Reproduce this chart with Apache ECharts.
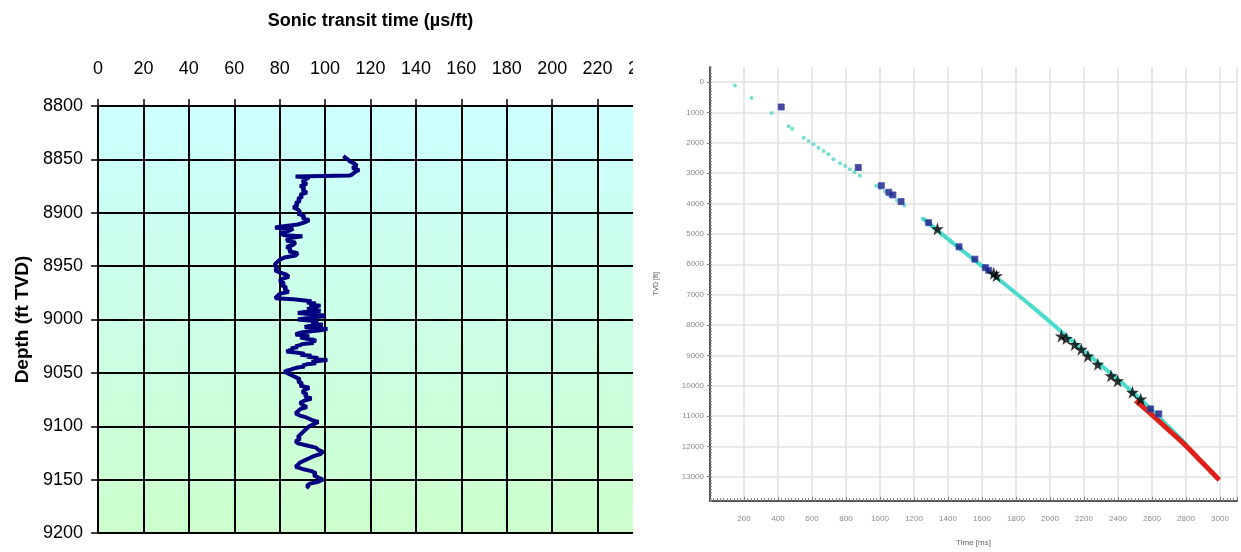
<!DOCTYPE html>
<html>
<head>
<meta charset="utf-8">
<script src="https://cdn.jsdelivr.net/npm/echarts@6/dist/echarts.min.js"></script>
<style>
  html, body { margin: 0; padding: 0; background: #fff; }
  #wrapL { position: absolute; left: 0; top: 0; width: 633px; height: 552px; overflow: hidden; }
  #disp1 { position: absolute; left: 0; top: 0; width: 680px; height: 552px; }
  #disp2 { position: absolute; left: 645px; top: 0; width: 596px; height: 552px; }
</style>
</head>
<body>
<div id="wrapL"><div id="disp1"></div></div>
<div id="disp2"></div>
<script>
// ---- left chart : sonic log ----
var sonicTicks = [0, 20, 40, 60, 80, 100, 120, 140, 160, 180, 200, 220, 240];
var depthTicks = [8800, 8850, 8900, 8950, 9000, 9050, 9100, 9150, 9200];
var sonicDepth = [
  8847, 8850, 8852, 8854, 8856, 8858, 8860, 8862, 8864, 8865,
  8866, 8867, 8869, 8871, 8873, 8875, 8877, 8879, 8881, 8883,
  8885, 8887, 8889, 8891, 8893, 8895, 8897, 8899, 8901, 8903,
  8905, 8907, 8909, 8911, 8913, 8914, 8915, 8917, 8919, 8921,
  8922, 8924, 8926, 8928, 8930, 8932, 8934, 8936, 8938, 8940,
  8942, 8944, 8946, 8948, 8950, 8952, 8954, 8956, 8958, 8960,
  8962, 8964, 8966, 8968, 8970, 8972, 8974, 8976, 8978, 8980,
  8981, 8982, 8983, 8984, 8985, 8986, 8987, 8988, 8989, 8990,
  8991, 8992, 8993, 8994, 8995, 8996, 8997, 8998, 8999, 9000,
  9001, 9002, 9003, 9004, 9005, 9006, 9007, 9008, 9009, 9010,
  9011, 9012, 9013, 9014, 9015, 9016, 9017, 9018, 9019, 9020,
  9021, 9022, 9023, 9024, 9025, 9026, 9027, 9028, 9029, 9030,
  9031, 9032, 9033, 9034, 9035, 9036, 9037, 9038, 9039, 9040,
  9041, 9042, 9043, 9044, 9045, 9046, 9047, 9048, 9049, 9050,
  9052, 9054, 9056, 9058, 9060, 9062, 9064, 9066, 9068, 9070,
  9072, 9074, 9076, 9078, 9080, 9082, 9084, 9086, 9088, 9090,
  9092, 9094, 9096, 9098, 9100, 9102, 9104, 9106, 9108, 9110,
  9112, 9114, 9116, 9118, 9120, 9122, 9124, 9126, 9128, 9130,
  9132, 9134, 9136, 9138, 9140, 9142, 9144, 9146, 9148, 9150,
  9152, 9154, 9156, 9158];
var sonicValue = [
  108, 110, 111, 113, 114, 112, 115, 113, 112, 111,
  87, 93, 91, 90, 92, 89, 91, 90, 92, 89,
  90, 88, 89, 87, 88, 86, 88, 89, 88, 91,
  90, 93, 91, 88, 80, 78, 86, 84, 80, 82,
  90, 84, 83, 87, 86, 83, 85, 84, 88, 87,
  82, 80, 79, 78, 78, 79, 78, 80, 83, 84,
  81, 80, 82, 81, 83, 82, 84, 80, 79, 78,
  86, 90, 94, 92, 96, 93, 98, 95, 97, 92,
  96, 98, 91, 88, 94, 99, 100, 95, 91, 88,
  93, 97, 94, 96, 99, 93, 91, 97, 101, 98,
  94, 90, 88, 87, 91, 93, 89, 92, 95, 96,
  93, 95, 90, 89, 87, 88, 85, 86, 84, 83,
  87, 91, 89, 94, 92, 97, 95, 101, 97, 94,
  96, 92, 90, 91, 88, 86, 85, 83, 82, 82,
  85, 87, 89, 88, 90, 89, 93, 91, 90, 92,
  91, 94, 91, 89, 90, 92, 89, 88, 87, 89,
  92, 94, 97, 95, 93, 92, 91, 90, 89, 88,
  89, 87, 88, 92, 96, 97, 99, 98, 95, 93,
  91, 89, 88, 87, 90, 94, 96, 95, 97, 99,
  97, 93, 92, 93];

// ---- right chart : time-depth ----
var timeTicks = [200, 400, 600, 800, 1000, 1200, 1400, 1600, 1800, 2000, 2200, 2400, 2600, 2800, 3000];
var tvdTicks = [0, 1000, 2000, 3000, 4000, 5000, 6000, 7000, 8000, 9000, 10000, 11000, 12000, 13000];
var cyanTime = [147, 244, 362, 463, 483, 551, 580, 609, 638, 668, 697, 726, 765, 795, 823, 850, 882,
  978, 1000, 1030, 1057, 1100, 1144, 1251, 1300, 1367, 1420, 1465, 1520, 1562, 1620, 1678, 1720, 1776, 1830, 1892, 1950];
var cyanDepth = [111, 523, 1013, 1451, 1536, 1830, 1940, 2049, 2158, 2267, 2376, 2540, 2670, 2760, 2866, 2970, 3085,
  3412, 3480, 3600, 3739, 3900, 4065, 4500, 4700, 5046, 5280, 5480, 5690, 5863, 6120, 6405, 6600, 6843, 7100, 7386, 7660];
var trendTime = [1250, 1500, 1700, 1900, 2100, 2300, 2500, 2650, 2806];
var trendDepth = [4480, 5620, 6500, 7420, 8380, 9330, 10280, 11090, 11960];
var redTime = [2504, 2600, 2689, 2806, 2900, 2996];
var redDepth = [10490, 10960, 11418, 12016, 12560, 13105];
var blueTime = [419, 872, 1008, 1052, 1076, 1124, 1286, 1465, 1558, 1620, 1640, 2592, 2640];
var blueDepth = [817, 2811, 3412, 3627, 3716, 3935, 4631, 5425, 5830, 6111, 6200, 10765, 10928];
var starTime = [1338, 1669, 1685, 2067, 2096, 2145, 2184, 2223, 2281, 2359, 2398, 2485, 2534];
var starDepth = [4827, 6297, 6380, 8366, 8444, 8640, 8804, 9020, 9294, 9673, 9837, 10219, 10438];

function zip(a, b) {
  return a.map(function (v, i) { return [v, b[i]]; });
}

var sans = '"Liberation Sans", Arial, sans-serif';

var chart1 = echarts.init(document.getElementById('disp1'));
var option1 = {
  animation: false,
  backgroundColor: '#ffffff',
  grid: {
    left: 98, top: 106, width: 545, height: 427,
    show: true, borderWidth: 0,
    backgroundColor: {
      type: 'linear', x: 0, y: 0, x2: 0, y2: 1,
      colorStops: [{ offset: 0, color: '#ccffff' }, { offset: 1, color: '#ccffcc' }]
    }
  },
  xAxis: {
    type: 'value', position: 'top', min: 0, max: 240, interval: 20,
    name: 'Sonic transit time (µs/ft)', nameLocation: 'middle', nameGap: 76,
    nameTextStyle: { fontFamily: sans, fontSize: 18, fontWeight: 'bold', color: '#000' },
    axisLine: { show: true, onZero: false, lineStyle: { color: '#000', width: 2 } },
    axisTick: { show: true, length: 7, lineStyle: { color: '#000', width: 1.5 } },
    axisLabel: {
      fontFamily: sans, fontSize: 18, color: '#000', margin: 28, showMaxLabel: true,
      formatter: function (v) { return String(v); }
    },
    splitLine: { show: true, lineStyle: { color: '#000', width: 2 } }
  },
  yAxis: {
    type: 'value', inverse: true, min: 8800, max: 9200, interval: 50,
    name: 'Depth (ft TVD)', nameLocation: 'middle', nameGap: 66, nameRotate: 90,
    nameTextStyle: { fontFamily: sans, fontSize: 19, fontWeight: 'bold', color: '#000' },
    axisLine: { show: true, onZero: false, lineStyle: { color: '#000', width: 2 } },
    axisTick: { show: true, length: 7, lineStyle: { color: '#000', width: 1.5 } },
    axisLabel: {
      fontFamily: sans, fontSize: 18, color: '#000', margin: 15,
      formatter: function (v) { return String(v); }
    },
    splitLine: { show: true, lineStyle: { color: '#000', width: 2 } }
  },
  series: [{
    type: 'line',
    data: zip(sonicValue, sonicDepth),
    showSymbol: false,
    lineStyle: { color: '#000080', width: 4 },
    z: 5
  }]
};
chart1.setOption(option1);

var starPath = 'path://M50,0 L61,35 L98,35 L68,57 L79,91 L50,70 L21,91 L32,57 L2,35 L39,35 Z';
var gray = '#8a8a8a';

var chart2 = echarts.init(document.getElementById('disp2'));
var option2 = {
  animation: false,
  backgroundColor: '#ffffff',
  grid: { left: 60, right: 4, top: 67, bottom: 47 },
  xAxis: {
    type: 'value', min: 0, max: 3100, interval: 200,
    name: 'Time [ms]', nameLocation: 'middle', nameGap: 38,
    nameTextStyle: { fontSize: 8, color: '#666' },
    axisLine: { show: true, onZero: false, lineStyle: { color: '#555', width: 2 } },
    axisTick: { show: true, length: 4, inside: true, lineStyle: { color: '#777' } },
    minorTick: { show: true, splitNumber: 10, length: 3, lineStyle: { color: '#888' } },
    axisLabel: {
      fontSize: 8, color: gray, margin: 14,
      formatter: function (v) { return timeTicks.indexOf(v) >= 0 ? String(v) : ''; }
    },
    splitLine: { show: true, lineStyle: { color: '#e0e0e0', width: 1.5 } }
  },
  yAxis: [{
    type: 'value', inverse: true, min: -500, max: 13800,
    name: 'TVD [ft]', nameLocation: 'middle', nameGap: 50, nameRotate: 90,
    nameTextStyle: { fontSize: 7, color: '#666' },
    axisLine: { show: true, onZero: false, lineStyle: { color: '#555', width: 2 } },
    axisTick: { show: true, length: 3, customValues: tvdTicks, lineStyle: { color: '#777' } },
    axisLabel: {
      fontSize: 8, color: gray, margin: 6, customValues: tvdTicks,
      formatter: function (v) { return String(v); }
    },
    splitLine: { show: true, lineStyle: { color: '#e0e0e0', width: 1.5 } }
  }, {
    type: 'value', inverse: true, min: -500, max: 13800, interval: 100,
    position: 'left',
    axisLine: { show: false },
    axisTick: { show: true, length: 2, inside: true, lineStyle: { color: '#999' } },
    axisLabel: { show: false },
    splitLine: { show: false }
  }],
  series: [{
    type: 'line', data: zip(redTime, redDepth), showSymbol: false, smooth: true,
    lineStyle: { color: '#e0201a', width: 5 }, z: 3
  }, {
    type: 'line', data: zip(trendTime, trendDepth), showSymbol: false, smooth: true,
    lineStyle: { color: '#48dccc', width: 4 }, z: 2
  }, {
    type: 'scatter', data: zip(cyanTime, cyanDepth), symbol: 'circle', symbolSize: 4,
    itemStyle: { color: '#52d6c4' }, z: 4
  }, {
    type: 'scatter', data: zip(blueTime, blueDepth), symbol: 'rect', symbolSize: 6,
    itemStyle: { color: '#1a1a80', borderColor: '#3848b0', borderWidth: 1 }, z: 5
  }, {
    type: 'scatter', data: zip(starTime, starDepth), symbol: starPath, symbolSize: 13,
    itemStyle: { color: '#000' }, z: 6
  }]
};
chart2.setOption(option2);

window.onresize = function () {
  chart1.resize();
  chart2.resize();
};
</script>
</body>
</html>
